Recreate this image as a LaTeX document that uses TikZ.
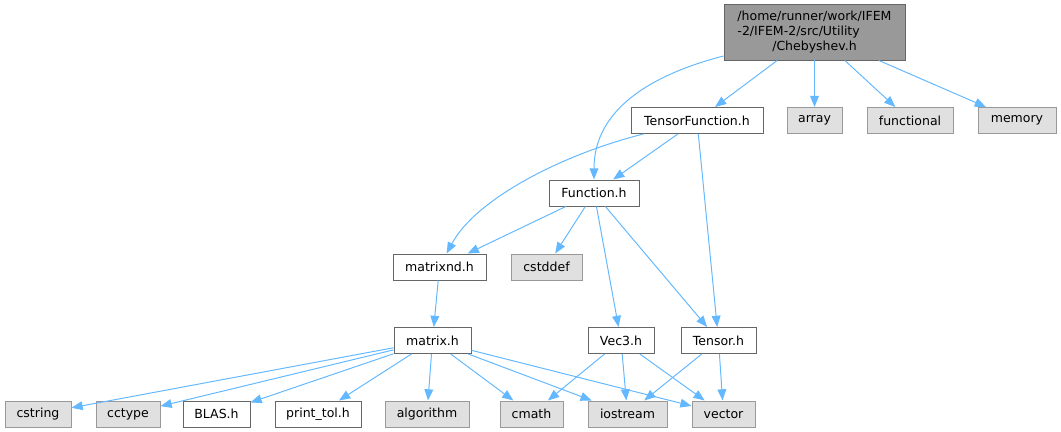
\documentclass[tikz,border=0pt]{standalone}
\usepackage{fontspec}
\setmainfont{DejaVu Sans}
\usetikzlibrary{arrows.meta}
\definecolor{edgeblue}{HTML}{63B8FF}
\definecolor{sysfill}{HTML}{E0E0E0}
\definecolor{sysframe}{HTML}{999999}
\definecolor{fileframe}{HTML}{666666}
\definecolor{headfill}{HTML}{999999}

\begin{document}
\begin{tikzpicture}[x=0.025cm, y=-0.025cm,
	file/.style={draw=fileframe, fill=white, line width=0.7pt, minimum height=0.65cm, inner sep=0pt, font=\fontsize{8.9}{10.6}\selectfont},
	sys/.style={file, draw=sysframe, fill=sysfill},
	wd/.style={minimum width=#1*0.025cm},
	dep/.style={edgeblue, line width=0.7pt, -{Triangle[length=0.28cm,width=0.22cm]}}]
	\useasboundingbox (0,0) rectangle (1061,432);
	\node[file, fill=headfill, wd=181, minimum height=1.375cm] (cheb) at (814.5,32.5)
	  {\begin{tabular}{@{}l@{}}/home/runner/work/IFEM\\-2/IFEM-2/src/Utility\\\multicolumn{1}{@{}c@{}}{/Chebyshev.h}\end{tabular}};
	\node[file, wd=132] (tensorfunc) at (697,120.5) {TensorFunction.h};
	\node[sys, wd=55] (array) at (814.5,120.5) {array};
	\node[sys, wd=86] (functional) at (910,120.5) {functional};
	\node[sys, wd=78] (memory) at (1017,120.5) {memory};
	\node[file, wd=90] (function) at (594,193) {Function.h};
	\node[file, wd=93] (matrixnd) at (439.5,267) {matrixnd.h};
	\node[sys, wd=71] (cstddef) at (546.5,267) {cstddef};
	\node[file, wd=77] (matrix) at (432.5,340.5) {matrix.h};
	\node[file, wd=66] (vec3) at (621,340.5) {Vec3.h};
	\node[file, wd=75] (tensor) at (718.5,340.5) {Tensor.h};
	\node[sys, wd=66] (cstring) at (38,414) {cstring};
	\node[sys, wd=64] (cctype) at (128,414) {cctype};
	\node[file, wd=67] (blas) at (216.5,414) {BLAS.h};
	\node[file, wd=86] (printtol) at (318,414) {print\_tol.h};
	\node[sys, wd=84] (algorithm) at (427,414) {algorithm};
	\node[sys, wd=63] (cmath) at (531.5,414) {cmath};
	\node[sys, wd=79] (iostream) at (627.5,414) {iostream};
	\node[sys, wd=63] (vector) at (723.5,414) {vector};

	\draw[dep] (cheb) .. controls (650,75) and (594,110) .. (function);
	\foreach \to in {tensorfunc, array, functional, memory}
	  \draw[dep] (cheb) -- (\to);
	\draw[dep] (tensorfunc) -- (function);
	\draw[dep] (tensorfunc) .. controls (560,155) and (475,200) .. (matrixnd);
	\draw[dep] (tensorfunc) -- (tensor);
	\foreach \to in {matrixnd, cstddef, vec3, tensor}
	  \draw[dep] (function) -- (\to);
	\draw[dep] (matrixnd) -- (matrix);
	\foreach \to in {cstring, cctype, blas, printtol, algorithm, cmath, iostream, vector}
	  \draw[dep] (matrix) -- (\to);
	\foreach \to in {cmath, iostream, vector}
	  \draw[dep] (vec3) -- (\to);
	\foreach \to in {iostream, vector}
	  \draw[dep] (tensor) -- (\to);
\end{tikzpicture}
\end{document}
